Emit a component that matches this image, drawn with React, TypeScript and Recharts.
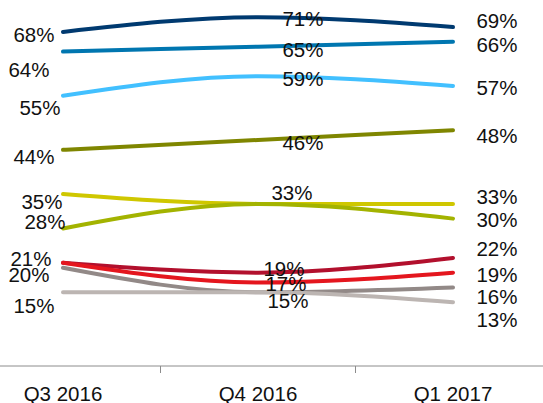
import { LineChart, Line, XAxis, YAxis, LabelList } from 'recharts';

const categories = ['Q3 2016', 'Q4 2016', 'Q1 2017'];

const navy = [68, 71, 69];
const blue = [64, 65, 66];
const sky = [55, 59, 57];
const olive = [44, 46, 48];
const yellow = [35, 33, 33];
const lime = [28, 33, 30];
const crimson = [21, 19, 22];
const red = [21, 17, 19];
const taupe = [20, 15, 16];
const silver = [15, 15, 13];

// label nudges per point (dx, dy from the point), null = label hidden
type Nudge = [number, number] | null;

const series: { key: string; values: number[]; color: string; labels: Nudge[] }[] = [
  { key: 'navy', values: navy, color: '#003a70', labels: [[-29, 3], [45, 1], [44, -7]] },
  { key: 'blue', values: blue, color: '#0076b0', labels: [[-34, 18], [45, 3], [44, 3]] },
  { key: 'sky', values: sky, color: '#42c0ff', labels: [[-23, 12], [45, 2], [44, 2]] },
  { key: 'olive', values: olive, color: '#7f8600', labels: [[-29, 7], [45, 2], [44, 5]] },
  { key: 'yellow', values: yellow, color: '#cfc700', labels: [[-21, 7], [34, -11], [44, -7]] },
  { key: 'lime', values: lime, color: '#a3b300', labels: [[-18, -7], null, [44, 1]] },
  { key: 'crimson', values: crimson, color: '#b2102d', labels: [[-32, -4], [26, -4], [44, -9]] },
  { key: 'red', values: red, color: '#e4161e', labels: [null, [28, 1], [44, 2]] },
  { key: 'taupe', values: taupe, color: '#928987', labels: [[-34, 7], null, [44, 9]] },
  { key: 'silver', values: silver, color: '#bcb5b2', labels: [[-29, 13], [30, 8], [44, 17]] },
];

const data = categories.map((cat, i) => {
  const row: Record<string, string | number> = { cat };
  series.forEach((s) => (row[s.key] = s.values[i]));
  return row;
});

const W = 543;
const H = 403;
const PAD_L = 63;
const PAD_R = 90;
const STEP = (W - PAD_L - PAD_R) / (categories.length - 1);
const FONT = 'Arial, "Liberation Sans", sans-serif';

function CatTick(props: any) {
  const { x, y, payload, index } = props;
  return (
    <g>
      <text x={x} y={y} dy={27} textAnchor="middle" dominantBaseline="central" fontSize={20.5} fontFamily={FONT} fill="#111">
        {payload.value}
      </text>
      {index < categories.length - 1 && (
        <line x1={x + STEP / 2} x2={x + STEP / 2} y1={y} y2={y + 7} stroke="#8c8c8c" strokeWidth={1} />
      )}
    </g>
  );
}

const makeLabel = (nudges: Nudge[]) => (props: any) => {
  const { x, y, value, index } = props;
  const n = nudges[index];
  if (!n) return null;
  return (
    <text
      x={x + n[0]}
      y={y + n[1]}
      textAnchor="middle"
      dominantBaseline="central"
      fontSize={20.5}
      fontFamily={FONT}
      fill="#111"
    >
      {value}%
    </text>
  );
};

export default function App() {
  return (
    <div style={{ position: 'absolute', left: 0, top: 0, background: '#fff' }}>
      <LineChart width={W} height={H} data={data} margin={{ top: 0, right: 0, bottom: 0, left: 0 }}>
        <XAxis
          dataKey="cat"
          padding={{ left: PAD_L, right: PAD_R }}
          axisLine={{ stroke: '#8c8c8c', strokeWidth: 1 }}
          tickLine={false}
          tickSize={0}
          tickMargin={0}
          interval={0}
          height={37}
          tick={<CatTick />}
        />
        <YAxis hide domain={[0, 74.5]} />
        {series.map((s) => (
          <Line
            key={s.key}
            dataKey={s.key}
            type="monotone"
            stroke={s.color}
            strokeWidth={4}
            strokeLinecap="round"
            dot={false}
            activeDot={false}
            isAnimationActive={false}
          />
        ))}
        {series.map((s) => (
          <Line
            key={s.key + '-lbl'}
            dataKey={s.key}
            stroke="none"
            dot={false}
            activeDot={false}
            legendType="none"
            isAnimationActive={false}
          >
            <LabelList dataKey={s.key} content={makeLabel(s.labels)} />
          </Line>
        ))}
      </LineChart>
    </div>
  );
}
